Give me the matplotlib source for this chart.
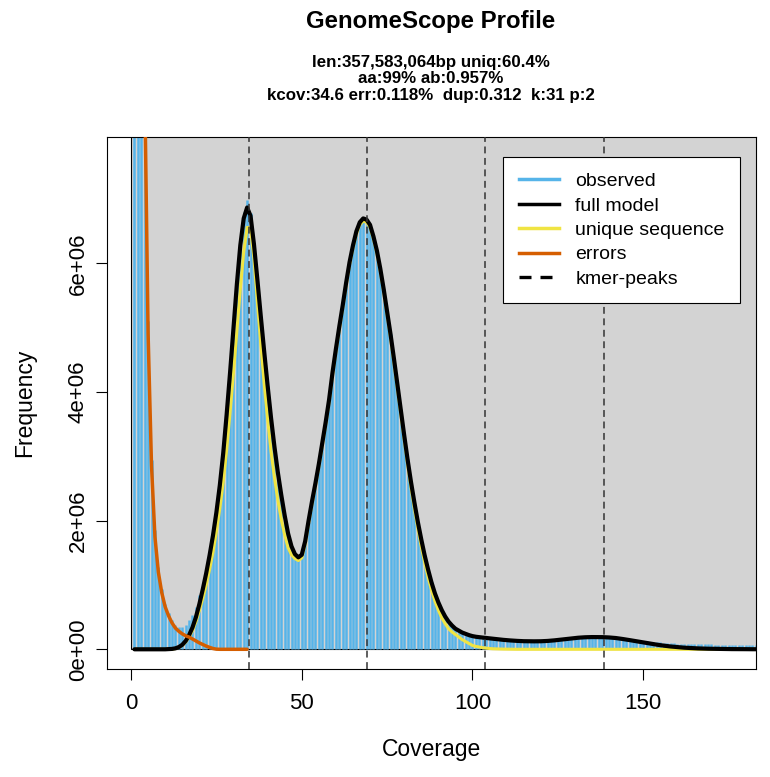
import matplotlib
matplotlib.use("Agg")
import matplotlib.pyplot as plt
from matplotlib.lines import Line2D
from matplotlib.patches import Rectangle

plt.rcParams['font.family'] = ['Liberation Sans', 'DejaVu Sans']

# dados (frequencias em milhoes)
coverage = list(range(1, 184))

observed = [
    160, 48, 21, 9.6, 5.1, 2.95, 1.85, 1.28, 0.93, 0.70,
    0.56, 0.46, 0.38, 0.35, 0.34, 0.38, 0.45, 0.54, 0.66, 0.84,
    1.02, 1.24, 1.50, 1.80, 2.15, 2.58, 3.08, 3.68, 4.33, 5.03,
    5.73, 6.33, 6.80, 6.98, 6.78, 6.32, 5.76, 5.18, 4.63, 4.10,
    3.61, 3.15, 2.75, 2.40, 2.08, 1.80, 1.60, 1.48, 1.43, 1.47,
    1.66, 1.98, 2.30, 2.60, 2.90, 3.20, 3.55, 3.90, 4.30, 4.66,
    5.03, 5.36, 5.70, 6.03, 6.30, 6.50, 6.65, 6.72, 6.68, 6.60,
    6.43, 6.20, 5.93, 5.60, 5.25, 4.90, 4.53, 4.14, 3.74, 3.34,
    2.96, 2.61, 2.28, 1.98, 1.71, 1.46, 1.24, 1.04, 0.87, 0.73,
    0.61, 0.51, 0.43, 0.37, 0.32, 0.29, 0.26, 0.24, 0.22, 0.21,
    0.200, 0.190, 0.185, 0.180, 0.175, 0.170, 0.165, 0.160, 0.155, 0.150,
    0.148, 0.146, 0.145, 0.144, 0.144, 0.145, 0.146, 0.147, 0.149, 0.151,
    0.154, 0.157, 0.160, 0.163, 0.166, 0.170, 0.173, 0.176, 0.179, 0.182,
    0.184, 0.186, 0.188, 0.189, 0.190, 0.190, 0.190, 0.189, 0.187, 0.184,
    0.180, 0.176, 0.171, 0.166, 0.160, 0.154, 0.148, 0.142, 0.136, 0.130,
    0.125, 0.120, 0.115, 0.110, 0.106, 0.102, 0.098, 0.095, 0.092, 0.089,
    0.087, 0.085, 0.083, 0.081, 0.080, 0.079, 0.078, 0.077, 0.076, 0.075,
    0.074, 0.073, 0.073, 0.072, 0.072, 0.071, 0.071, 0.070, 0.070, 0.070,
    0.069, 0.069, 0.068,
]

fullModel = [
    0, 0, 0, 0, 0, 0, 0, 0, 0, 0,
    0.003, 0.006, 0.015, 0.035, 0.07, 0.13, 0.22, 0.34, 0.50, 0.70,
    0.93, 1.18, 1.46, 1.77, 2.13, 2.55, 3.05, 3.65, 4.30, 5.00,
    5.68, 6.28, 6.70, 6.87, 6.74, 6.30, 5.75, 5.18, 4.63, 4.10,
    3.60, 3.15, 2.75, 2.40, 2.08, 1.80, 1.60, 1.48, 1.43, 1.47,
    1.68, 2.00, 2.30, 2.58, 2.88, 3.20, 3.53, 3.88, 4.30, 4.67,
    5.02, 5.35, 5.70, 6.02, 6.28, 6.50, 6.64, 6.70, 6.68, 6.60,
    6.42, 6.20, 5.92, 5.60, 5.25, 4.90, 4.52, 4.12, 3.73, 3.33,
    2.95, 2.60, 2.28, 1.98, 1.71, 1.46, 1.24, 1.04, 0.87, 0.73,
    0.61, 0.51, 0.43, 0.37, 0.32, 0.29, 0.26, 0.24, 0.22, 0.205,
    0.195, 0.188, 0.182, 0.176, 0.170, 0.164, 0.158, 0.152, 0.147, 0.142,
    0.138, 0.134, 0.131, 0.128, 0.126, 0.125, 0.124, 0.124, 0.124, 0.125,
    0.127, 0.130, 0.134, 0.139, 0.145, 0.151, 0.158, 0.164, 0.170, 0.175,
    0.180, 0.184, 0.187, 0.189, 0.190, 0.190, 0.190, 0.189, 0.187, 0.184,
    0.180, 0.175, 0.168, 0.160, 0.152, 0.143, 0.134, 0.125, 0.116, 0.107,
    0.098, 0.089, 0.080, 0.072, 0.064, 0.057, 0.050, 0.044, 0.039, 0.034,
    0.029, 0.025, 0.022, 0.019, 0.016, 0.014, 0.012, 0.010, 0.009, 0.008,
    0.007, 0.006, 0.005, 0.004, 0.004, 0.003, 0.003, 0.002, 0.002, 0.002,
    0.001, 0.001, 0.001,
]

uniqueSeq = [
    0, 0, 0, 0, 0, 0, 0, 0, 0, 0,
    0, 0, 0.012, 0.03, 0.06, 0.11, 0.19, 0.29, 0.43, 0.60,
    0.79, 1.00, 1.24, 1.51, 1.83, 2.19, 2.60, 3.10, 3.68, 4.30,
    4.95, 5.60, 6.18, 6.56, 6.55, 6.08, 5.40, 4.75, 4.13, 3.58,
    3.08, 2.67, 2.32, 2.02, 1.78, 1.58, 1.47, 1.41, 1.38, 1.42,
    1.63, 1.96, 2.26, 2.54, 2.84, 3.16, 3.49, 3.84, 4.26, 4.63,
    4.98, 5.31, 5.66, 5.98, 6.24, 6.46, 6.60, 6.66, 6.64, 6.56,
    6.38, 6.16, 5.88, 5.56, 5.20, 4.85, 4.46, 4.06, 3.66, 3.26,
    2.87, 2.51, 2.18, 1.88, 1.60, 1.35, 1.12, 0.92, 0.75, 0.61,
    0.49, 0.40, 0.32, 0.27, 0.23, 0.19, 0.15, 0.12, 0.09, 0.06,
    0.045, 0.035, 0.025, 0.018, 0.012, 0.008, 0.006, 0.004, 0.003, 0.002,
] + [0.0] * 73

errCoverage = list(range(1, 35))
errors = [
    60, 30, 16, 8.8, 4.9, 2.85, 1.75, 1.2, 0.88, 0.66,
    0.52, 0.41, 0.33, 0.28, 0.24, 0.21, 0.19, 0.16, 0.13, 0.10,
    0.075, 0.05, 0.03, 0.012, 0.002, 0, 0, 0, 0, 0,
    0, 0, 0, 0,
]

kmerPeaks = [34.6, 69.2, 103.8, 138.4]

xTicks = [0, 50, 100, 150]
yTicks = [0, 2e6, 4e6, 6e6]
yTickLabels = ["0e+00", "2e+06", "4e+06", "6e+06"]

titulo = "GenomeScope Profile"
subtitulo = [
    "len:357,583,064bp uniq:60.4%",
    "aa:99% ab:0.957%",
    "kcov:34.6 err:0.118%  dup:0.312  k:31 p:2",
]
legendas = ["observed", "full model", "unique sequence", "errors", "kmer-peaks"]

corObs = '#56B4E9'
corUniq = '#F0E442'
corErr = '#D55E00'

W, H = 770, 777
fig = plt.figure(figsize=(W / 100, H / 100), dpi=100)
ax = fig.add_axes([107 / W, 1 - 669 / H, (756 - 107) / W, (669 - 137) / H])

ax.set_xlim(-7.04, 183.04)
ax.set_ylim(-0.3064e6, 7.966e6)

# fundo cinza
ax.add_patch(Rectangle((0, 0), 1000, 1e9, facecolor='#D3D3D3',
                       edgecolor='black', linewidth=0.8, zorder=1))

ax.vlines(coverage, 0, [v * 1e6 for v in observed], colors=corObs,
          linewidth=1.8, zorder=2)
ax.plot(coverage, [v * 1e6 for v in uniqueSeq], color=corUniq,
        linewidth=2.2, zorder=3, solid_capstyle='round', solid_joinstyle='round')
ax.plot(coverage, [v * 1e6 for v in fullModel], color='black',
        linewidth=3.0, zorder=4, solid_capstyle='round', solid_joinstyle='round')
ax.plot(errCoverage, [v * 1e6 for v in errors], color=corErr,
        linewidth=2.5, zorder=5, solid_capstyle='round', solid_joinstyle='round')
for p in kmerPeaks:
    ax.axvline(p, color='#333333', linewidth=1.1, linestyle=(0, (4.5, 3)), zorder=6)

ax.set_xticks(xTicks)
ax.set_xticklabels([str(t) for t in xTicks])
ax.set_yticks(yTicks)
ax.set_yticklabels(yTickLabels, rotation=90, va='center')
ax.tick_params(axis='both', direction='out', length=8, width=0.8, labelsize=16)
ax.tick_params(axis='x', pad=9)
ax.tick_params(axis='y', pad=5)
for s in ax.spines.values():
    s.set_linewidth(0.8)

ax.set_xlabel("Coverage", fontsize=16.5)
ax.xaxis.set_label_coords(0.5, -0.13)
ax.set_ylabel("Frequency", fontsize=16.5)
ax.yaxis.set_label_coords(-0.109, 0.5)

handles = [
    Line2D([], [], color=corObs, linewidth=2.5),
    Line2D([], [], color='black', linewidth=2.5),
    Line2D([], [], color=corUniq, linewidth=2.5),
    Line2D([], [], color=corErr, linewidth=2.5),
    Line2D([], [], color='black', linewidth=2.4, linestyle=(0, (3.6, 2.7))),
]
leg = ax.legend(handles, legendas, loc='upper right', fontsize=14,
                bbox_to_anchor=((740 - 107) / 649, 1 - 20 / 532),
                handlelength=2.05, handletextpad=0.85, labelspacing=0.35,
                borderpad=0.8, borderaxespad=0, fancybox=False,
                framealpha=1, edgecolor='black')
leg.get_frame().set_linewidth(0.8)
leg.set_zorder(10)

fig.text(431 / W, 1 - 28 / H, titulo, ha='center', va='baseline',
         fontsize=17.3, fontweight='bold')
for i, linha in enumerate(subtitulo):
    fig.text(431 / W, 1 - (67 + 16.3 * i) / H, linha, ha='center', va='baseline',
             fontsize=12.2, fontweight='bold')

fig.savefig("out.png", dpi=100)
